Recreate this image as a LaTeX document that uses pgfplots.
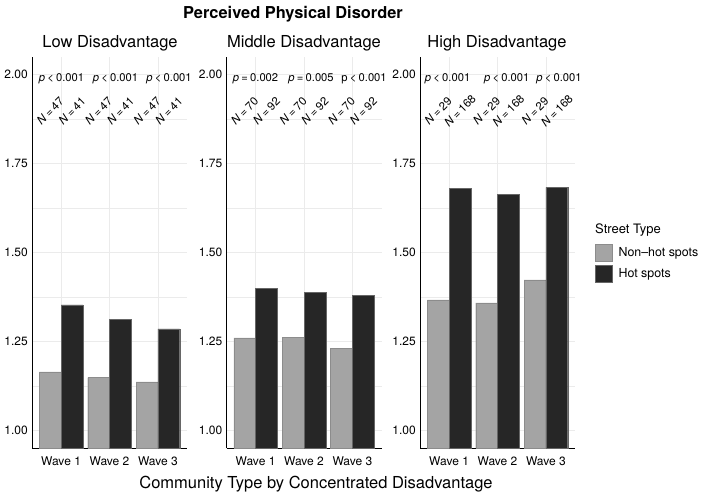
\documentclass[border=0pt]{standalone}
\usepackage{pgfplots}
\pgfplotsset{compat=1.18}
\usepackage{fontspec}
\setmainfont{TeX Gyre Heros}

\definecolor{nonhot}{HTML}{A4A4A4}
\definecolor{hot}{HTML}{262626}
\definecolor{gridcol}{HTML}{EBEBEB}

% narrow space used inside the annotation labels
\newcommand{\nsp}{\hspace{0.2em}}
\newcommand{\plt}[1]{\textit{p}\nsp<\nsp#1}
\newcommand{\peq}[1]{\textit{p}\nsp=\nsp#1}
\newcommand{\nn}[1]{\textit{N}\nsp=\nsp#1}

\tikzset{
  plab/.style={font=\fontsize{11.2}{12}\selectfont},
  nlab/.style={font=\fontsize{11.5}{12}\selectfont, rotate=45},
}

\pgfplotsset{
  panel/.style={
    scale only axis, width=155pt, height=391pt,
    anchor=south west,
    xmin=0.4, xmax=3.6, ymin=0.95, ymax=2.05,
    axis x line*=bottom, axis y line*=left,
    axis line style={-, line width=0.8pt, black},
    xtick={1,2,3}, xticklabels={Wave 1,Wave 2,Wave 3},
    ytick={1,1.25,1.5,1.75,2},
    minor ytick={1.125,1.375,1.625,1.875},
    xmajorgrids, ymajorgrids, yminorgrids,
    major grid style={gridcol, line width=0.6pt},
    minor grid style={gridcol, line width=0.4pt},
    major tick length=0pt, minor tick length=0pt,
    /pgf/number format/assume math mode=true,
    yticklabel={\pgfmathprintnumber[fixed, fixed zerofill, precision=2]{\tick}},
    tick label style={font=\fontsize{12}{12}\selectfont},
    yticklabel style={inner sep=0pt, xshift=-4pt},
    xticklabel style={inner sep=0pt, yshift=-9pt},
    clip mode=individual,
  },
  nonhotbar/.style={ybar, bar width=0.45, bar shift=-0.225, fill=nonhot, draw=black!45, line width=0.4pt,
    legend image code/.code={\draw[##1] (0pt,-8.5pt) rectangle (17pt,8.5pt);}},
  hotbar/.style={ybar, bar width=0.45, bar shift=0.225, fill=hot, draw=black!60, line width=0.4pt,
    legend image code/.code={\draw[##1] (0pt,-8.5pt) rectangle (17pt,8.5pt);}},
}

\begin{document}
\begin{tikzpicture}
\useasboundingbox (0,0) rectangle (701pt,-497pt);

% overall title, facet strips and x-axis title
\node[font=\bfseries\fontsize{16.4}{18}\selectfont] at (293pt,-14pt) {Perceived Physical Disorder};
\node[font=\fontsize{16.5}{18}\selectfont] at (110pt,-43pt) {Low Disadvantage};
\node[font=\fontsize{16.5}{18}\selectfont] at (304pt,-43pt) {Middle Disadvantage};
\node[font=\fontsize{16.5}{18}\selectfont] at (497pt,-43pt) {High Disadvantage};
\node[font=\fontsize{16.5}{18}\selectfont] at (316pt,-484pt) {Community Type by Concentrated Disadvantage};

% Low disadvantage
\begin{axis}[panel, at={(32pt,-448pt)}]
\addplot[nonhotbar] coordinates {(1,1.164) (2,1.148) (3,1.136)};
\addplot[hotbar] coordinates {(1,1.353) (2,1.312) (3,1.285)};
\node[plab] at (axis cs:1.01,1.989) {\plt{0.001}};
\node[plab] at (axis cs:2.125,1.989) {\plt{0.001}};
\node[plab] at (axis cs:3.23,1.989) {\plt{0.001}};
\node[nlab] at (axis cs:0.775,1.899) {\nn{47}};
\node[nlab] at (axis cs:1.225,1.899) {\nn{41}};
\node[nlab] at (axis cs:1.775,1.899) {\nn{47}};
\node[nlab] at (axis cs:2.225,1.899) {\nn{41}};
\node[nlab] at (axis cs:2.775,1.899) {\nn{47}};
\node[nlab] at (axis cs:3.225,1.899) {\nn{41}};
\end{axis}

% Middle disadvantage
\begin{axis}[panel, at={(226.5pt,-448pt)}]
\addplot[nonhotbar] coordinates {(1,1.260) (2,1.261) (3,1.231)};
\addplot[hotbar] coordinates {(1,1.400) (2,1.388) (3,1.380)};
\node[plab] at (axis cs:1.0,1.989) {\peq{0.002}};
\node[plab] at (axis cs:2.146,1.989) {\peq{0.005}};
\node[plab] at (axis cs:3.24,1.989) {p\nsp<\nsp0.001};
\node[nlab] at (axis cs:0.775,1.899) {\nn{70}};
\node[nlab] at (axis cs:1.225,1.899) {\nn{92}};
\node[nlab] at (axis cs:1.775,1.899) {\nn{70}};
\node[nlab] at (axis cs:2.225,1.899) {\nn{92}};
\node[nlab] at (axis cs:2.775,1.899) {\nn{70}};
\node[nlab] at (axis cs:3.225,1.899) {\nn{92}};
\end{axis}

% High disadvantage, with the legend
\begin{axis}[panel, at={(420pt,-448pt)},
  legend style={at={(1.129,0.5217)}, anchor=north west, draw=none, fill=none,
    inner sep=0pt, row sep=3.5pt, font=\fontsize{12.4}{13}\selectfont,
    nodes={inner sep=0pt}, /tikz/every odd column/.style={column sep=6pt}},
  legend cell align=left]
\addplot[nonhotbar] coordinates {(1,1.367) (2,1.358) (3,1.423)};
\addlegendentry{Non--hot spots}
\addplot[hotbar] coordinates {(1,1.681) (2,1.663) (3,1.683)};
\addlegendentry{Hot spots}
\node[plab] at (axis cs:0.97,1.989) {\plt{0.001}};
\node[plab] at (axis cs:2.19,1.989) {\plt{0.001}};
\node[plab] at (axis cs:3.27,1.989) {\plt{0.001}};
\node[nlab] at (axis cs:0.775,1.899) {\nn{29}};
\node[nlab] at (axis cs:1.225,1.899) {\nn{168}};
\node[nlab] at (axis cs:1.775,1.899) {\nn{29}};
\node[nlab] at (axis cs:2.225,1.899) {\nn{168}};
\node[nlab] at (axis cs:2.775,1.899) {\nn{29}};
\node[nlab] at (axis cs:3.225,1.899) {\nn{168}};
\end{axis}

\node[anchor=west, inner sep=0pt, font=\fontsize{13}{14}\selectfont] at (595pt,-230pt) {Street Type};
\end{tikzpicture}
\end{document}
